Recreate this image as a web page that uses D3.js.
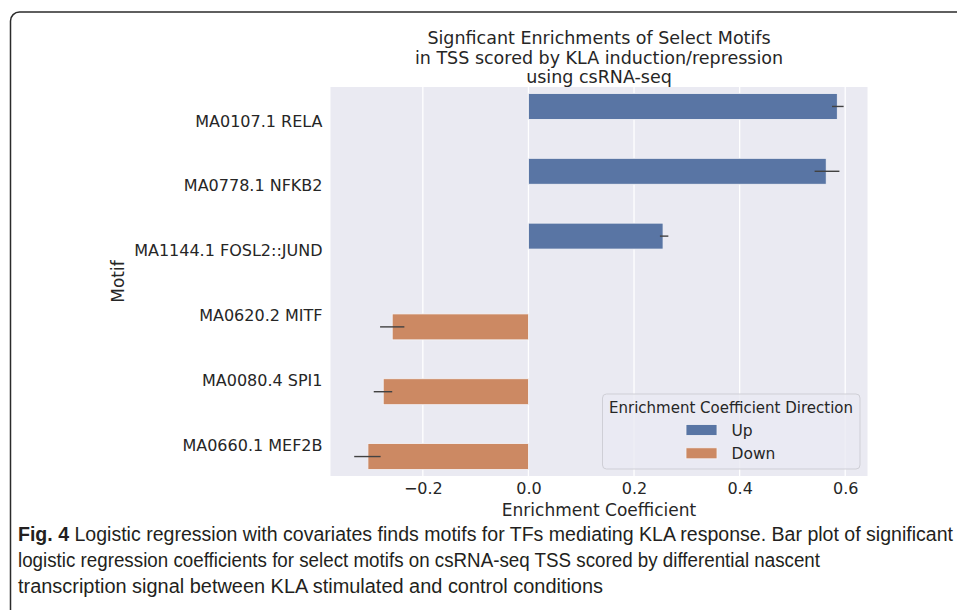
<!DOCTYPE html>
<html>
<head>
<meta charset="utf-8">
<script src="https://cdn.jsdelivr.net/npm/d3@7"></script>
<style>
  html, body { margin: 0; padding: 0; background: #ffffff; }
  svg { display: block; }
</style>
</head>
<body>
<svg id="chart" width="957" height="610"></svg>
<script>
// ---- data ----
const motifs = ["MA0107.1 RELA", "MA0778.1 NFKB2", "MA1144.1 FOSL2::JUND", "MA0620.2 MITF", "MA0080.4 SPI1", "MA0660.1 MEF2B"];
const directions = ["Up", "Up", "Up", "Down", "Down", "Down"];
const coefficients = [0.585, 0.564, 0.255, -0.258, -0.275, -0.304];
const ciLow = [0.575, 0.542, 0.249, -0.281, -0.293, -0.330];
const ciHigh = [0.597, 0.589, 0.265, -0.235, -0.258, -0.280];
const hueLevels = ["Up", "Down"];
const xTicks = [-0.2, 0.0, 0.2, 0.4, 0.6];
const titleLines = ["Signficant Enrichments of Select Motifs", "in TSS scored by KLA induction/repression", "using csRNA-seq"];
const xLabel = "Enrichment Coefficient";
const yLabel = "Motif";
const legendTitle = "Enrichment Coefficient Direction";
const captionBold = "Fig. 4";
const captionLines = [
  " Logistic regression with covariates finds motifs for TFs mediating KLA response. Bar plot of significant",
  "logistic regression coefficients for select motifs on csRNA-seq TSS scored by differential nascent",
  "transcription signal between KLA stimulated and control conditions"
];

const rows = motifs.map((m, i) => ({ motif: m, dir: directions[i], v: coefficients[i], lo: ciLow[i], hi: ciHigh[i] }));

// ---- layout ----
const svg = d3.select("#chart");
const plot = { left: 330.5, right: 867.5, top: 87, bottom: 476 };
const textColor = "#262626";
const font = "'DejaVu Sans', sans-serif";

// frame border
svg.append("rect")
  .attr("x", 10.5).attr("y", 12).attr("width", 1000).attr("height", 700)
  .attr("rx", 9).attr("ry", 9)
  .attr("fill", "none").attr("stroke", "#2b2b2b").attr("stroke-width", 1.5);

const x = d3.scaleLinear().domain([-0.3749, 0.6422]).range([plot.left, plot.right]);
const y = d3.scaleBand().domain(motifs).range([plot.top, plot.bottom]).paddingInner(0.2).paddingOuter(0.1);
const hue = d3.scaleBand().domain(hueLevels).range([0, y.bandwidth()]);
const color = d3.scaleOrdinal().domain(hueLevels).range(["#5975a4", "#cc8963"]);

// background
svg.append("rect")
  .attr("x", plot.left).attr("y", plot.top)
  .attr("width", plot.right - plot.left).attr("height", plot.bottom - plot.top)
  .attr("fill", "#eaeaf2");

// gridlines
svg.append("g").selectAll("line").data(xTicks).join("line")
  .attr("x1", d => x(d)).attr("x2", d => x(d))
  .attr("y1", plot.top).attr("y2", plot.bottom)
  .attr("stroke", "#ffffff").attr("stroke-width", 1.3);

// bars
svg.append("g").selectAll("rect").data(rows).join("rect")
  .attr("x", d => x(Math.min(0, d.v)))
  .attr("width", d => Math.abs(x(d.v) - x(0)))
  .attr("y", d => y(d.motif) + hue(d.dir))
  .attr("height", hue.bandwidth())
  .attr("fill", d => color(d.dir))
  .attr("stroke", "#f4f4f8").attr("stroke-width", 0.8);

// error bars
svg.append("g").selectAll("line").data(rows).join("line")
  .attr("x1", d => x(d.lo)).attr("x2", d => x(d.hi))
  .attr("y1", d => y(d.motif) + hue(d.dir) + hue.bandwidth() / 2)
  .attr("y2", d => y(d.motif) + hue(d.dir) + hue.bandwidth() / 2)
  .attr("stroke", "#424242").attr("stroke-width", 1.4);

// x axis
const xAxis = d3.axisBottom(x).tickValues(xTicks).tickSize(0).tickPadding(7)
  .tickFormat(d => d3.format(".1f")(d).replace("-", "\u2212"));
const gx = svg.append("g").attr("transform", `translate(0,${plot.bottom})`).call(xAxis);
gx.select(".domain").remove();
gx.selectAll("text").attr("font-family", font).attr("font-size", "16px").attr("fill", textColor)
  .attr("dy", "0.71em");

// y axis
const yAxis = d3.axisLeft(y).tickSize(0).tickPadding(8);
const gy = svg.append("g").attr("transform", `translate(${plot.left},0)`).call(yAxis);
gy.select(".domain").remove();
gy.selectAll("text").attr("font-family", font).attr("font-size", "16px").attr("fill", textColor)
  .attr("dy", "0.45em");

// axis labels
svg.append("text")
  .attr("x", (plot.left + plot.right) / 2).attr("y", 516)
  .attr("text-anchor", "middle")
  .attr("font-family", font).attr("font-size", "17px").attr("fill", textColor)
  .text(xLabel);

svg.append("text")
  .attr("transform", `translate(124,${(plot.top + plot.bottom) / 2}) rotate(-90)`)
  .attr("text-anchor", "middle")
  .attr("font-family", font).attr("font-size", "17px").attr("fill", textColor)
  .text(yLabel);

// title
const title = svg.append("text")
  .attr("text-anchor", "middle")
  .attr("font-family", font).attr("font-size", "17.5px").attr("fill", textColor);
titleLines.forEach((t, i) => {
  title.append("tspan").attr("x", (plot.left + plot.right) / 2).attr("y", 44 + i * 19.5).text(t);
});

// legend
const lg = svg.append("g");
lg.append("rect")
  .attr("x", 602.5).attr("y", 394).attr("width", 257.5).attr("height", 75)
  .attr("rx", 4).attr("ry", 4)
  .attr("fill", "#eaeaf2").attr("fill-opacity", 0.8)
  .attr("stroke", "#cfcfd6").attr("stroke-width", 1);
lg.append("text")
  .attr("x", 731).attr("y", 412.5)
  .attr("text-anchor", "middle")
  .attr("font-family", font).attr("font-size", "15px").attr("fill", textColor)
  .text(legendTitle);
hueLevels.forEach((h, i) => {
  const cy = 430 + i * 23.3;
  lg.append("rect")
    .attr("x", 686).attr("y", cy - 5.5).attr("width", 31).attr("height", 11)
    .attr("fill", color(h)).attr("stroke", "#f4f4f8").attr("stroke-width", 0.8);
  lg.append("text")
    .attr("x", 731.5).attr("y", cy).attr("dy", "0.36em")
    .attr("font-family", font).attr("font-size", "15.5px").attr("fill", textColor)
    .text(h);
});

// caption
const capFont = "'Liberation Sans Narrow', 'Arial Narrow', 'Liberation Sans', sans-serif";
const capWidths = [935, 802, 585];
captionLines.forEach((t, i) => {
  const txt = svg.append("text")
    .attr("x", 18).attr("y", 541 + i * 26)
    .attr("font-family", capFont).attr("font-size", "19.5px").attr("fill", "#231f20")
    .attr("textLength", capWidths[i]).attr("lengthAdjust", "spacingAndGlyphs");
  if (i === 0) {
    txt.append("tspan").attr("font-weight", "bold").text(captionBold);
  }
  txt.append("tspan").text(t);
});
</script>
</body>
</html>
